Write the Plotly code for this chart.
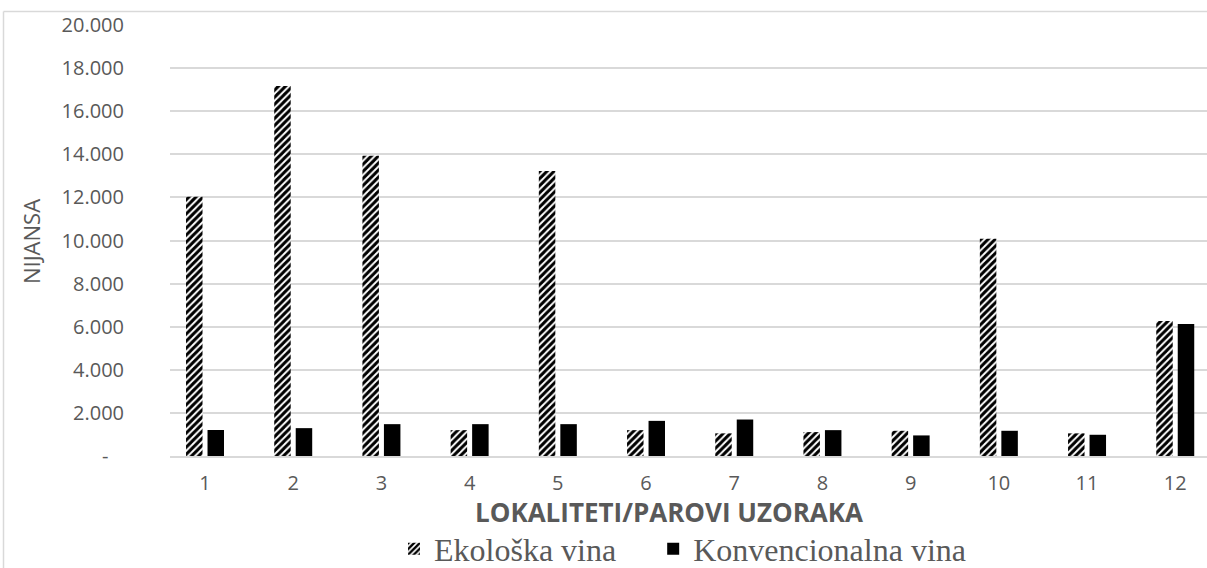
import plotly.graph_objects as go

categories = ["1", "2", "3", "4", "5", "6", "7", "8", "9", "10", "11", "12"]
ekoloska = [12030, 17170, 13930, 1200, 13220, 1200, 1050, 1110, 1170, 10080, 1050, 6260]
konvencionalna = [1206, 1293, 1478, 1478, 1478, 1630, 1693, 1200, 955, 1170, 985, 6120]
y_ticks = [0, 2000, 4000, 6000, 8000, 10000, 12000, 14000, 16000, 18000, 20000]
y_ticktext = ["-   ", "2.000", "4.000", "6.000", "8.000", "10.000", "12.000",
              "14.000", "16.000", "18.000", "20.000"]

x_pos = list(range(len(categories)))

W, H = 1207, 568
L, R, T, B = 170, 0, 25, 112
pw, ph = W - L - R, H - T - B

def px(x):
    return (x - L) / pw

def py(y):
    return (H - B - y) / ph

GRAY = "#595959"
GRID = "#d9d9d9"
NBSP = "\u00a0"

fig = go.Figure()
fig.add_trace(go.Bar(
    x=x_pos, y=ekoloska, name="Ekološka vina" + NBSP * 4,
    marker=dict(color="white", line=dict(width=0),
                pattern=dict(shape="/", fgcolor="#000000", bgcolor="white", fgopacity=1,
                             size=5, solidity=0.6)),
))
fig.add_trace(go.Bar(
    x=x_pos, y=konvencionalna, name="Konvencionalna vina",
    marker=dict(color="black", line=dict(width=0)),
))

fig.update_layout(
    width=W, height=H,
    margin=dict(l=L, r=R, t=T, b=B, autoexpand=False),
    paper_bgcolor="white", plot_bgcolor="white",
    barmode="group", bargap=0.5125, bargroupgap=0.233,
    font=dict(family="Open Sans", color=GRAY),
    showlegend=True,
    legend=dict(orientation="h", x=px(394), y=py(549), xanchor="left", yanchor="middle",
                font=dict(family="Liberation Serif", size=32, color=GRAY),
                itemsizing="constant", traceorder="normal"),
    xaxis=dict(range=[-0.397, 11.36], tickmode="array", tickvals=x_pos, ticktext=categories,
               showgrid=False, zeroline=False, showline=True, linecolor=GRID, linewidth=1.5,
               ticks="", tickfont=dict(size=20, color=GRAY), ticklabelstandoff=8),
    yaxis=dict(range=[0, 20000], tickmode="array", tickvals=y_ticks, ticktext=y_ticktext,
               showgrid=True, gridcolor=GRID, gridwidth=1.5, zeroline=False, showline=False,
               ticks="", tickfont=dict(size=20, color=GRAY), ticklabelstandoff=45),
    annotations=[
        dict(text="<b>LOKALITETI/PAROVI UZORAKA</b>", x=px(669), y=py(512), xref="paper", yref="paper",
             showarrow=False, xanchor="center", yanchor="middle",
             font=dict(family="Open Sans", size=26, color=GRAY)),
        dict(text="NIJANSA", x=px(31), y=py(242), xref="paper", yref="paper",
             showarrow=False, xanchor="center", yanchor="middle", textangle=-90,
             font=dict(family="Open Sans", size=22, color=GRAY)),
    ],
    shapes=[
        dict(type="line", xref="paper", yref="paper", x0=px(3.5), x1=px(1207), y0=py(11.5), y1=py(11.5),
             line=dict(color=GRID, width=1.5)),
        dict(type="line", xref="paper", yref="paper", x0=px(3.5), x1=px(3.5), y0=py(11.5), y1=py(568),
             line=dict(color=GRID, width=1.5)),
    ],
)

fig.write_html("out.html", config={"displayModeBar": False},
               post_script="document.body.style.margin='0';document.body.style.overflow='hidden';")
